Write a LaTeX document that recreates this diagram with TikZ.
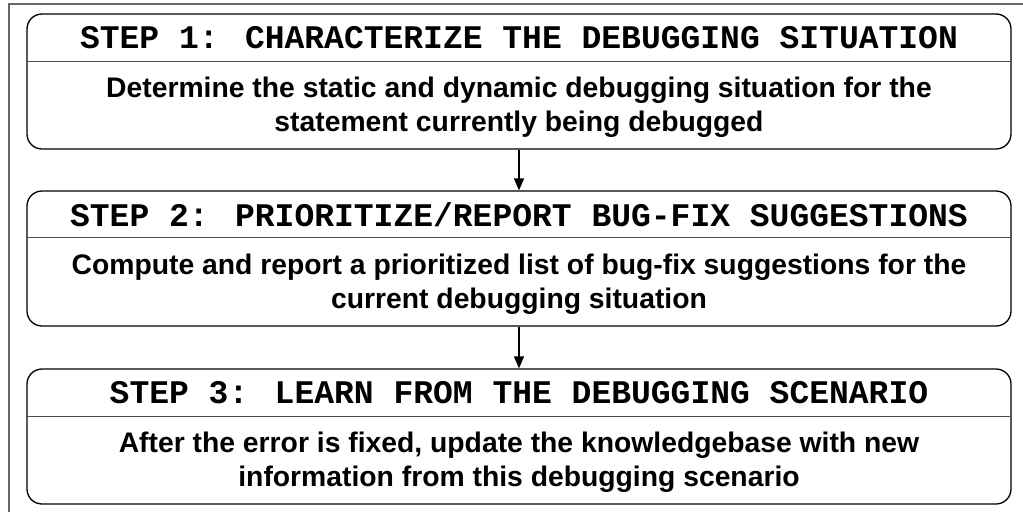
\documentclass[tikz,border=0pt]{standalone}
\usepackage{fontspec}
\setmainfont{Liberation Sans}
\newfontfamily\monob{Liberation Mono}
\usetikzlibrary{arrows.meta}
\tikzset{
  stepbox/.style={draw=black, line width=1.3pt, rounded corners=15pt,
    minimum width=984pt, minimum height=135pt, inner sep=0pt},
  steptitle/.style={inner sep=0pt, font=\monob\bfseries\fontsize{33}{33}\selectfont},
  stepbody/.style={inner sep=0pt, align=center,
    font=\bfseries\fontsize{28.3}{34}\selectfont},
  divider/.style={draw=black!70, line width=1.4pt},
  flow/.style={draw=black, line width=1.6pt, -{Triangle[length=12pt,width=10pt]}},
  frame/.style={draw=black!60, line width=1.5pt}
}
\begin{document}
\begin{tikzpicture}[x=1pt,y=-1pt]
\useasboundingbox (0,0) rectangle (1023,512);
\draw[frame] (9,512) -- (9,4) -- (1023,4);

% step 1
\node[stepbox] (b1) at (519,81.5) {};
\draw[divider] ([yshift=-48pt]b1.north west) -- ([yshift=-48pt]b1.north east);
\node[steptitle] (t1) at ([yshift=-24pt]b1.north) {STEP 1: CHARACTERIZE THE DEBUGGING SITUATION};
\node[stepbody] (d1) at ([yshift=-94pt]b1.north) {Determine the static and dynamic debugging situation for the\\statement currently being debugged};

% step 2
\node[stepbox] (b2) at (519,258.5) {};
\draw[divider] ([yshift=-47pt]b2.north west) -- ([yshift=-47pt]b2.north east);
\node[steptitle] (t2) at ([yshift=-24pt]b2.north) {STEP 2: PRIORITIZE/REPORT BUG-FIX SUGGESTIONS};
\node[stepbody] (d2) at ([yshift=-94pt]b2.north) {Compute and report a prioritized list of bug-fix suggestions for the\\current debugging situation};

% step 3
\node[stepbox] (b3) at (519,436.5) {};
\draw[divider] ([yshift=-48pt]b3.north west) -- ([yshift=-48pt]b3.north east);
\node[steptitle] (t3) at ([yshift=-24pt]b3.north) {STEP 3: LEARN FROM THE DEBUGGING SCENARIO};
\node[stepbody] (d3) at ([yshift=-94pt]b3.north) {After the error is fixed, update the knowledgebase with new\\information from this debugging scenario};

\draw[flow] (b1.south) -- (b2.north);
\draw[flow] (b2.south) -- (b3.north);
\end{tikzpicture}
\end{document}
